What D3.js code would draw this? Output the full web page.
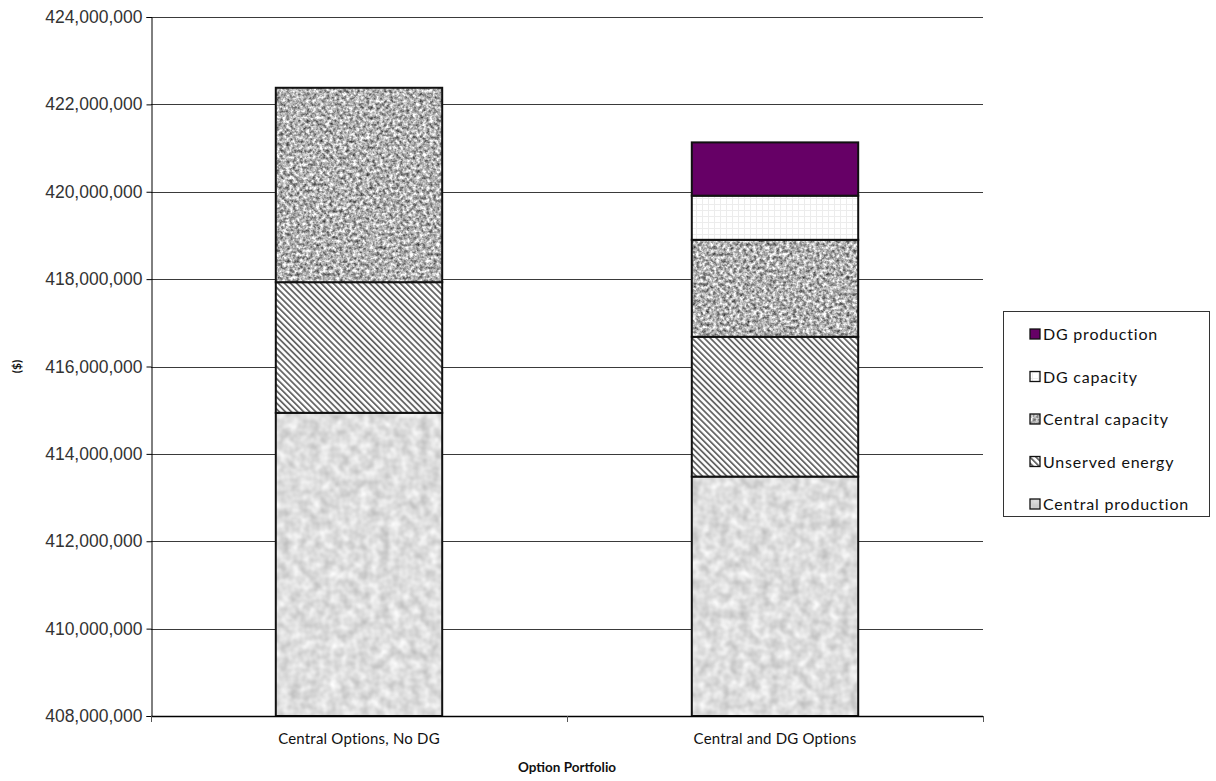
<!DOCTYPE html>
<html>
<head>
<meta charset="utf-8">
<script src="https://cdn.jsdelivr.net/npm/d3@7"></script>
<style>
  html, body { margin: 0; padding: 0; background: #fff; }
  svg { display: block; }
</style>
</head>
<body>
<svg id="chart" width="1216" height="781"></svg>
<script>
// Portfolio cost breakdown, stacked bottom to top
const categories = ["Central Options, No DG", "Central and DG Options"];
const seriesNames = ["Central production", "Unserved energy", "Central capacity", "DG capacity", "DG production"];
const centralProduction = [414940000, 413480000];
const unservedEnergy    = [2990000, 3200000];
const centralCapacity   = [4450000, 2220000];
const dgCapacity        = [0, 1010000];
const dgProduction      = [0, 1220000];
const yTicks = [408000000, 410000000, 412000000, 414000000, 416000000, 418000000, 420000000, 422000000, 424000000];

const seriesValues = [centralProduction, unservedEnergy, centralCapacity, dgCapacity, dgProduction];
const rows = categories.map((c, i) => {
  const r = { category: c };
  seriesNames.forEach((s, k) => r[s] = seriesValues[k][i]);
  return r;
});

const svg = d3.select("#chart");
const margin = { left: 151, right: 233, top: 17, bottom: 65 };
const W = 1216, H = 781;
const x0 = margin.left, x1 = W - margin.right, y0 = margin.top, y1 = H - margin.bottom;
const gothic = "Century Gothic, URW Gothic, Lato, sans-serif";

const x = d3.scaleBand().domain(categories).range([x0, x1]).paddingInner(0.6).paddingOuter(0.3);
const y = d3.scaleLinear().domain([408000000, 424000000]).range([y1, y0]);

// Fills: textures, hatching and grid
const defs = svg.append("defs");
function noiseFilter(id, freq, oct, k, off, seed) {
  const f = defs.append("filter").attr("id", id)
    .attr("x", 0).attr("y", 0).attr("width", 1).attr("height", 1)
    .attr("color-interpolation-filters", "sRGB");
  f.append("feTurbulence").attr("type", "fractalNoise")
    .attr("baseFrequency", freq).attr("numOctaves", oct).attr("seed", seed).attr("result", "n");
  f.append("feColorMatrix").attr("type", "matrix")
    .attr("values", `${k} 0 0 0 ${off}  ${k} 0 0 0 ${off}  ${k} 0 0 0 ${off}  0 0 0 0 1`);
}
noiseFilter("speckle", 0.3, 3, 1.25, 0.07, 7);
noiseFilter("marble", 0.1, 2, 0.3, 0.72, 3);

const hatch = defs.append("pattern").attr("id", "hatch")
  .attr("patternUnits", "userSpaceOnUse").attr("width", 4.3).attr("height", 4.3)
  .attr("patternTransform", "rotate(-45)");
hatch.append("rect").attr("width", 4.3).attr("height", 4.3).attr("fill", "#fff");
hatch.append("rect").attr("x", 0).attr("width", 1.8).attr("height", 4.3).attr("fill", "#666");

const grid = defs.append("pattern").attr("id", "finegrid")
  .attr("patternUnits", "userSpaceOnUse").attr("width", 6).attr("height", 6);
grid.append("rect").attr("width", 6).attr("height", 6).attr("fill", "#fff");
grid.append("path").attr("d", "M0,0.5H6M0.5,0V6").attr("stroke", "#ececec").attr("stroke-width", 1);

const styles = {
  "Central production": { fill: "#d9d9d9", filter: "marble" },
  "Unserved energy":    { fill: "url(#hatch)" },
  "Central capacity":   { fill: "#9c9c9c", filter: "speckle" },
  "DG capacity":        { fill: "url(#finegrid)" },
  "DG production":      { fill: "#660066" }
};

// Gridlines
svg.append("g").selectAll("line").data(yTicks).join("line")
  .attr("x1", x0).attr("x2", x1)
  .attr("y1", d => Math.round(y(d)) + 0.5).attr("y2", d => Math.round(y(d)) + 0.5)
  .attr("stroke", "#3a3a3a").attr("stroke-width", 1);

// Stacked bars
const stack = d3.stack().keys(seriesNames)(rows);
const barG = svg.append("g");
stack.forEach(layer => {
  const st = styles[layer.key];
  layer.forEach(seg => {
    const v = seg[1] - seg[0];
    if (v <= 0) return;
    const bx = x(seg.data.category), bw = x.bandwidth();
    const lo = seg[0] < 408000000 ? 408000000 : seg[0];
    const top = y(seg[1]), bot = y(lo);
    if (st.filter) {
      barG.append("rect").attr("x", bx).attr("y", top).attr("width", bw).attr("height", bot - top)
        .attr("fill", st.fill).attr("filter", `url(#${st.filter})`);
      barG.append("rect").attr("x", bx).attr("y", top).attr("width", bw).attr("height", bot - top)
        .attr("fill", "none").attr("stroke", "#111").attr("stroke-width", 2);
    } else {
      barG.append("rect").attr("x", bx).attr("y", top).attr("width", bw).attr("height", bot - top)
        .attr("fill", st.fill).attr("stroke", "#111").attr("stroke-width", 2);
    }
  });
});

// Y axis
const yAxis = d3.axisLeft(y).tickValues(yTicks).tickSize(5).tickFormat(d3.format(","));
const ya = svg.append("g").attr("transform", `translate(${x0 + 0.5},0)`).call(yAxis);
ya.select(".domain").attr("stroke", "#000");
ya.selectAll(".tick line").attr("stroke", "#000");
ya.selectAll(".tick text").attr("font-family", "Liberation Sans, Arial, sans-serif")
  .attr("font-size", 17.5).attr("fill", "#333").attr("x", -9);

// X axis: line with ticks at category boundaries
const xa = svg.append("g");
xa.append("line").attr("x1", x0).attr("x2", x1).attr("y1", y1 + 0.5).attr("y2", y1 + 0.5)
  .attr("stroke", "#000").attr("stroke-width", 1.5);
const step = (x1 - x0) / categories.length;
d3.range(categories.length + 1).forEach(i => {
  const tx = Math.round(x0 + i * step) + 0.5;
  xa.append("line").attr("x1", tx).attr("x2", tx).attr("y1", y1).attr("y2", y1 + 6)
    .attr("stroke", "#555");
});
xa.selectAll("text.cat").data(categories).join("text").attr("class", "cat")
  .attr("x", d => x(d) + x.bandwidth() / 2).attr("y", y1 + 28)
  .attr("text-anchor", "middle")
  .attr("font-family", gothic).attr("letter-spacing", 0.2)
  .attr("font-size", 15).attr("fill", "#111").text(d => d);

// Axis titles
svg.append("text").attr("x", (x0 + x1) / 2).attr("y", 772).attr("text-anchor", "middle")
  .attr("font-family", gothic)
  .attr("font-size", 13.5).attr("font-weight", "bold").attr("fill", "#111").text("Option Portfolio");
svg.append("text").attr("transform", `translate(21,${(y0 + y1) / 2}) rotate(-90)`)
  .attr("text-anchor", "middle")
  .attr("font-family", gothic)
  .attr("font-size", 12).attr("font-weight", "bold").attr("fill", "#111").text("($)");

// Legend
const legendOrder = seriesNames.slice().reverse();
const lg = svg.append("g");
lg.append("rect").attr("x", 1003.5).attr("y", 311.5).attr("width", 206).attr("height", 205)
  .attr("fill", "#fff").attr("stroke", "#333").attr("stroke-width", 1);
const ly = d3.scalePoint().domain(legendOrder).range([334, 504]);
legendOrder.forEach(name => {
  const st = styles[name];
  const cy = ly(name);
  if (st.filter) {
    lg.append("rect").attr("x", 1030).attr("y", cy - 5).attr("width", 10).attr("height", 10)
      .attr("fill", st.fill).attr("filter", `url(#${st.filter})`);
    lg.append("rect").attr("x", 1030).attr("y", cy - 5).attr("width", 10).attr("height", 10)
      .attr("fill", "none").attr("stroke", "#111").attr("stroke-width", 1.3);
  } else {
    lg.append("rect").attr("x", 1030).attr("y", cy - 5).attr("width", 10).attr("height", 10)
      .attr("fill", st.fill).attr("stroke", "#111").attr("stroke-width", 1.3);
  }
  lg.append("text").attr("x", 1043).attr("y", cy + 6)
    .attr("font-family", gothic).attr("letter-spacing", 0.8)
    .attr("font-size", 16).attr("fill", "#111").text(name);
});
</script>
</body>
</html>
